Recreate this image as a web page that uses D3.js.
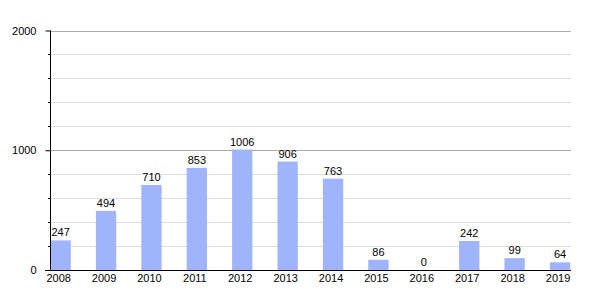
<!DOCTYPE html>
<html><head><meta charset="utf-8">
<script src="https://cdn.jsdelivr.net/npm/d3@7"></script>
<style>body{margin:0;background:#fff}text{font-family:"Liberation Sans",Arial,sans-serif;font-size:11px;fill:#000}</style>
</head><body><svg id="c" width="600" height="300"></svg>
<script>
const years = ["2008","2009","2010","2011","2012","2013","2014","2015","2016","2017","2018","2019"];
const values = [247,494,710,853,1006,906,763,86,0,242,99,64];
const majorTicks = [0,1000,2000];
const minorTicks = [200,400,600,800,1200,1400,1600,1800];

(function(){
const svg = d3.select("#c");
const mLeft = 50, mRight = 571, mTop = 30.5, mBottom = 270;
const step = 45.4;
const x = d3.scaleBand().domain(years).range([mLeft+0.5, mLeft+0.5+step*years.length]).paddingInner(0).paddingOuter(0);
const barW = x.bandwidth()*0.447;
const y = d3.scaleLinear().domain([0,2000]).range([mBottom, mTop]);

svg.append("g").selectAll("line").data(minorTicks).join("line")
  .attr("x1",mLeft).attr("x2",mRight).attr("y1",d=>Math.round(y(d))+0.5).attr("y2",d=>Math.round(y(d))+0.5)
  .attr("stroke","#dddddd");
svg.append("g").selectAll("line").data(majorTicks.filter(d=>d>0)).join("line")
  .attr("x1",mLeft).attr("x2",mRight).attr("y1",d=>Math.round(y(d))+0.5).attr("y2",d=>Math.round(y(d))+0.5)
  .attr("stroke","#aaaaaa");

svg.append("g").selectAll("rect").data(values).join("rect")
  .attr("x",(d,i)=>x(years[i])).attr("width",barW)
  .attr("y",d=>y(d)).attr("height",d=>mBottom-y(d))
  .attr("fill","#9fb4fa");

svg.append("g").selectAll("text").data(values).join("text")
  .attr("x",(d,i)=>x(years[i])+barW/2).attr("y",d=>y(d)-4)
  .attr("text-anchor","middle").text(d=>d);

const ya = d3.axisLeft(y).tickValues(majorTicks).tickSize(5).tickPadding(9).tickFormat(d3.format("d"));
const yg = svg.append("g").attr("transform",`translate(${mLeft+0.5},0)`).call(ya);
yg.select(".domain").remove();
yg.selectAll("text").style("font-size","11px").style("font-family","Liberation Sans, Arial, sans-serif");
svg.append("g").selectAll("line").data(minorTicks).join("line")
  .attr("x1",mLeft-2).attr("x2",mLeft).attr("y1",d=>Math.round(y(d))+0.5).attr("y2",d=>Math.round(y(d))+0.5)
  .attr("stroke","#000");
svg.append("line").attr("x1",mLeft+0.5).attr("x2",mLeft+0.5).attr("y1",mTop).attr("y2",mBottom).attr("stroke","#000");
svg.append("line").attr("x1",mLeft-5).attr("x2",mRight).attr("y1",mBottom+0.5).attr("y2",mBottom+0.5).attr("stroke","#000");

svg.append("g").selectAll("text.xl").data(years).join("text")
  .attr("x",d=>x(d)+barW/2-2).attr("y",282).attr("text-anchor","middle").text(d=>d);
})();
</script></body></html>
